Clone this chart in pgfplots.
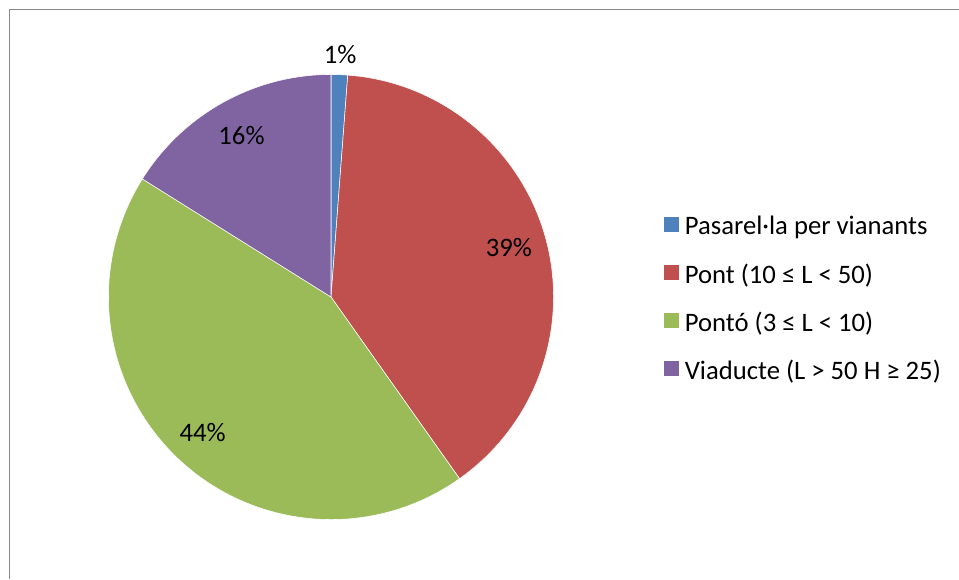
\documentclass[border=0pt]{standalone}
\usepackage{pgfplots}
\pgfplotsset{compat=1.18}
\usepackage{pgfplotstable}
\usepackage{fontspec}
\setmainfont{Carlito}

\definecolor{slice0}{HTML}{4F81BD}
\definecolor{slice1}{HTML}{C0504D}
\definecolor{slice2}{HTML}{9BBB59}
\definecolor{slice3}{HTML}{8064A2}
\definecolor{frame}{HTML}{878787}

% share of each slice (percent) and label radius (fraction of the pie radius)
\pgfplotstableread{
value lr
1.2   1.09
39.0  0.83
43.7  0.84
16.1  0.83
}\piedata

\def\R{166.9pt}
\def\cum{0}
\pgfplotsinvokeforeach{0,...,3}{%
  \pgfplotstablegetelem{#1}{value}\of\piedata \let\v\pgfplotsretval
  \pgfplotstablegetelem{#1}{lr}\of\piedata \let\lr\pgfplotsretval
  \pgfmathsetmacro\a{90-3.6*\cum}%
  \pgfmathsetmacro\b{90-3.6*(\cum+\v)}%
  \pgfmathsetmacro\m{(\a+\b)/2}%
  \pgfmathsetmacro\d{\lr*166.9}%
  \pgfmathtruncatemacro\p{round(\v)}%
  \expandafter\xdef\csname sA#1\endcsname{\a}%
  \expandafter\xdef\csname sB#1\endcsname{\b}%
  \expandafter\xdef\csname sM#1\endcsname{\m}%
  \expandafter\xdef\csname sD#1\endcsname{\d pt}%
  \expandafter\xdef\csname sP#1\endcsname{\p}%
  \pgfmathsetmacro\nc{\cum+\v}\xdef\cum{\nc}%
}

\begin{document}
\begin{tikzpicture}[x=0.75pt, y=0.75pt]
\useasboundingbox (0,0) rectangle (959,579);
\draw[frame, line width=1.2pt] (9.5,0) -- (9.5,569.5) -- (959,569.5);
\coordinate (C) at (331,282);
\begin{axis}[
  at={(C)}, anchor=center,
  hide axis, scale only axis, clip=false,
  width=333.75pt, height=333.75pt,
  xmin=-1, xmax=1, ymin=-1, ymax=1,
  font=\fontsize{20}{24}\selectfont,
  legend image code/.code={\fill[#1] (0pt,0pt) rectangle (11.25pt,11.25pt);},
  legend cell align=left,
  legend style={at={(1.248,0.494)}, anchor=west, draw=none, fill=none,
    inner sep=0pt, outer sep=0pt, column sep=4.5pt, row sep=20pt,
    font=\fontsize{20}{24}\selectfont,
    nodes={inner sep=0pt, text height=0.72em, text depth=0.25em}},
]
\pgfplotsinvokeforeach{0,...,3}{
  \fill[slice#1, draw=white, line width=0.4pt] (axis cs:0,0)
    -- ++(\csname sA#1\endcsname:\R)
    arc[start angle=\csname sA#1\endcsname, end angle=\csname sB#1\endcsname, radius=\R]
    -- cycle;
}
\pgfplotsinvokeforeach{0,...,3}{
  \path (axis cs:0,0) ++(\csname sM#1\endcsname:\csname sD#1\endcsname)
    node {\csname sP#1\endcsname\%};
}
\addlegendimage{fill=slice0, draw=none}
\addlegendentry{Pasarel·la per vianants}
\addlegendimage{fill=slice1, draw=none}
\addlegendentry{Pont (10 ≤ L < 50)}
\addlegendimage{fill=slice2, draw=none}
\addlegendentry{Pontó (3 ≤ L < 10)}
\addlegendimage{fill=slice3, draw=none}
\addlegendentry{Viaducte (L > 50 H ≥ 25)}
\end{axis}
\end{tikzpicture}
\end{document}
